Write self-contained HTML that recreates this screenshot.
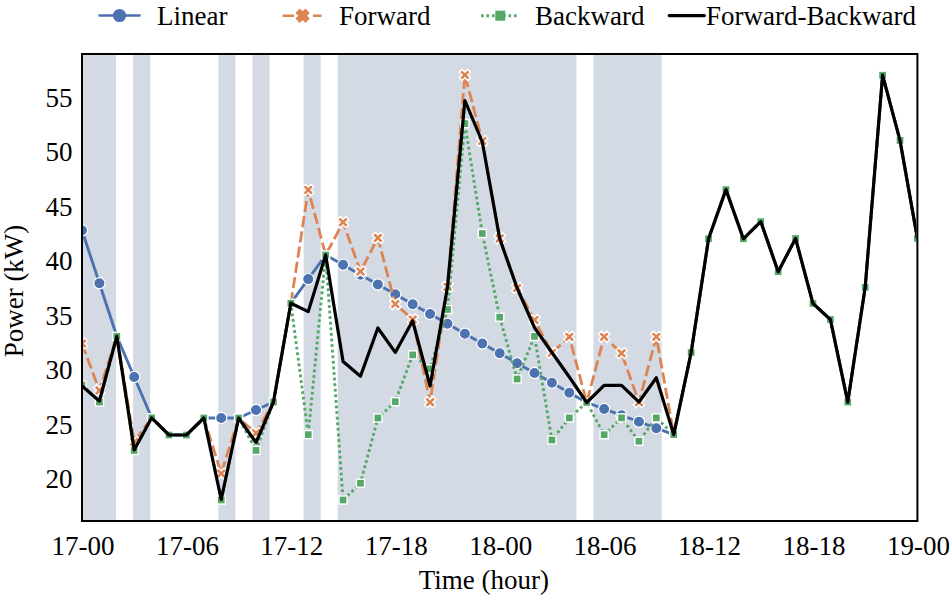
<!DOCTYPE html>
<html><head><meta charset="utf-8"><style>
html,body{margin:0;padding:0;background:#fff;}
svg{display:block;}
</style></head><body>
<svg width="950" height="597" viewBox="0 0 950 597">
<rect width="950" height="597" fill="#fff"/>
<defs><clipPath id="c"><rect x="83" y="54.5" width="833.4" height="465.5"/></clipPath></defs>
<rect x="82.00" y="54" width="34.10" height="466" fill="#D3DAE4"/><rect x="133.15" y="54" width="17.05" height="466" fill="#D3DAE4"/><rect x="218.39" y="54" width="17.05" height="466" fill="#D3DAE4"/><rect x="252.49" y="54" width="17.05" height="466" fill="#D3DAE4"/><rect x="303.64" y="54" width="17.05" height="466" fill="#D3DAE4"/><rect x="337.73" y="54" width="238.69" height="466" fill="#D3DAE4"/><rect x="593.47" y="54" width="68.20" height="466" fill="#D3DAE4"/>
<g clip-path="url(#c)">
<polyline points="82.00,230.30 99.40,283.30 116.81,336.30 134.21,377.05 151.62,417.80 169.02,435.00 186.42,435.00 203.83,418.00 221.23,418.00 238.64,418.00 256.04,410.00 273.45,402.00 290.85,303.20 308.25,279.10 325.66,255.00 343.06,264.83 360.47,274.67 377.87,284.50 395.27,294.33 412.68,304.17 430.08,314.00 447.49,323.83 464.89,333.67 482.30,343.50 499.70,353.33 517.10,363.17 534.51,373.00 551.91,382.83 569.32,392.67 586.72,402.50 604.12,408.92 621.53,415.34 638.93,421.76 656.34,428.18 673.74,434.60 691.15,352.50 708.55,238.80 725.95,189.60 743.36,238.80 760.76,221.60 778.17,271.70 795.57,238.50 812.97,303.50 830.38,319.50 847.78,402.10 865.19,287.30 882.59,75.20 900.00,140.40 917.40,238.50" fill="none" stroke="#4C72B0" stroke-width="2.9" stroke-linejoin="round" stroke-linecap="round"/><circle cx="82.00" cy="230.30" r="5.6" fill="#4C72B0" stroke="#fff" stroke-width="1.2"/><circle cx="99.40" cy="283.30" r="5.6" fill="#4C72B0" stroke="#fff" stroke-width="1.2"/><circle cx="134.21" cy="377.05" r="5.6" fill="#4C72B0" stroke="#fff" stroke-width="1.2"/><circle cx="221.23" cy="418.00" r="5.6" fill="#4C72B0" stroke="#fff" stroke-width="1.2"/><circle cx="256.04" cy="410.00" r="5.6" fill="#4C72B0" stroke="#fff" stroke-width="1.2"/><circle cx="308.25" cy="279.10" r="5.6" fill="#4C72B0" stroke="#fff" stroke-width="1.2"/><circle cx="343.06" cy="264.83" r="5.6" fill="#4C72B0" stroke="#fff" stroke-width="1.2"/><circle cx="360.47" cy="274.67" r="5.6" fill="#4C72B0" stroke="#fff" stroke-width="1.2"/><circle cx="377.87" cy="284.50" r="5.6" fill="#4C72B0" stroke="#fff" stroke-width="1.2"/><circle cx="395.27" cy="294.33" r="5.6" fill="#4C72B0" stroke="#fff" stroke-width="1.2"/><circle cx="412.68" cy="304.17" r="5.6" fill="#4C72B0" stroke="#fff" stroke-width="1.2"/><circle cx="430.08" cy="314.00" r="5.6" fill="#4C72B0" stroke="#fff" stroke-width="1.2"/><circle cx="447.49" cy="323.83" r="5.6" fill="#4C72B0" stroke="#fff" stroke-width="1.2"/><circle cx="464.89" cy="333.67" r="5.6" fill="#4C72B0" stroke="#fff" stroke-width="1.2"/><circle cx="482.30" cy="343.50" r="5.6" fill="#4C72B0" stroke="#fff" stroke-width="1.2"/><circle cx="499.70" cy="353.33" r="5.6" fill="#4C72B0" stroke="#fff" stroke-width="1.2"/><circle cx="517.10" cy="363.17" r="5.6" fill="#4C72B0" stroke="#fff" stroke-width="1.2"/><circle cx="534.51" cy="373.00" r="5.6" fill="#4C72B0" stroke="#fff" stroke-width="1.2"/><circle cx="551.91" cy="382.83" r="5.6" fill="#4C72B0" stroke="#fff" stroke-width="1.2"/><circle cx="569.32" cy="392.67" r="5.6" fill="#4C72B0" stroke="#fff" stroke-width="1.2"/><circle cx="604.12" cy="408.92" r="5.6" fill="#4C72B0" stroke="#fff" stroke-width="1.2"/><circle cx="621.53" cy="415.34" r="5.6" fill="#4C72B0" stroke="#fff" stroke-width="1.2"/><circle cx="638.93" cy="421.76" r="5.6" fill="#4C72B0" stroke="#fff" stroke-width="1.2"/><circle cx="656.34" cy="428.18" r="5.6" fill="#4C72B0" stroke="#fff" stroke-width="1.2"/><polyline points="82.00,343.50 99.40,390.40 116.81,336.30 134.21,442.00 151.62,417.80 169.02,435.00 186.42,435.00 203.83,418.00 221.23,473.50 238.64,418.00 256.04,433.10 273.45,402.00 290.85,303.20 308.25,189.90 325.66,255.00 343.06,222.20 360.47,271.50 377.87,237.90 395.27,304.00 412.68,319.50 430.08,402.20 447.49,286.70 464.89,75.00 482.30,141.00 499.70,238.40 517.10,288.00 534.51,320.00 551.91,352.80 569.32,336.80 586.72,402.50 604.12,336.80 621.53,353.20 638.93,402.20 656.34,336.80 673.74,434.60 691.15,352.50 708.55,238.80 725.95,189.60 743.36,238.80 760.76,221.60 778.17,271.70 795.57,238.50 812.97,303.50 830.38,319.50 847.78,402.10 865.19,287.30 882.59,75.20 900.00,140.40 917.40,238.50" fill="none" stroke="#DD8452" stroke-width="2.8" stroke-dasharray="11.2 4.2" stroke-linejoin="round"/><polygon points="79.20,337.90 82.00,340.70 84.80,337.90 87.60,340.70 84.80,343.50 87.60,346.30 84.80,349.10 82.00,346.30 79.20,349.10 76.40,346.30 79.20,343.50 76.40,340.70" fill="#DD8452" stroke="#fff" stroke-width="1.4" stroke-linejoin="miter"/><polygon points="96.60,384.80 99.40,387.60 102.20,384.80 105.00,387.60 102.20,390.40 105.00,393.20 102.20,396.00 99.40,393.20 96.60,396.00 93.80,393.20 96.60,390.40 93.80,387.60" fill="#DD8452" stroke="#fff" stroke-width="1.4" stroke-linejoin="miter"/><polygon points="131.41,436.40 134.21,439.20 137.01,436.40 139.81,439.20 137.01,442.00 139.81,444.80 137.01,447.60 134.21,444.80 131.41,447.60 128.61,444.80 131.41,442.00 128.61,439.20" fill="#DD8452" stroke="#fff" stroke-width="1.4" stroke-linejoin="miter"/><polygon points="218.43,467.90 221.23,470.70 224.03,467.90 226.83,470.70 224.03,473.50 226.83,476.30 224.03,479.10 221.23,476.30 218.43,479.10 215.63,476.30 218.43,473.50 215.63,470.70" fill="#DD8452" stroke="#fff" stroke-width="1.4" stroke-linejoin="miter"/><polygon points="253.24,427.50 256.04,430.30 258.84,427.50 261.64,430.30 258.84,433.10 261.64,435.90 258.84,438.70 256.04,435.90 253.24,438.70 250.44,435.90 253.24,433.10 250.44,430.30" fill="#DD8452" stroke="#fff" stroke-width="1.4" stroke-linejoin="miter"/><polygon points="305.45,184.30 308.25,187.10 311.05,184.30 313.85,187.10 311.05,189.90 313.85,192.70 311.05,195.50 308.25,192.70 305.45,195.50 302.65,192.70 305.45,189.90 302.65,187.10" fill="#DD8452" stroke="#fff" stroke-width="1.4" stroke-linejoin="miter"/><polygon points="340.26,216.60 343.06,219.40 345.86,216.60 348.66,219.40 345.86,222.20 348.66,225.00 345.86,227.80 343.06,225.00 340.26,227.80 337.46,225.00 340.26,222.20 337.46,219.40" fill="#DD8452" stroke="#fff" stroke-width="1.4" stroke-linejoin="miter"/><polygon points="357.67,265.90 360.47,268.70 363.27,265.90 366.07,268.70 363.27,271.50 366.07,274.30 363.27,277.10 360.47,274.30 357.67,277.10 354.87,274.30 357.67,271.50 354.87,268.70" fill="#DD8452" stroke="#fff" stroke-width="1.4" stroke-linejoin="miter"/><polygon points="375.07,232.30 377.87,235.10 380.67,232.30 383.47,235.10 380.67,237.90 383.47,240.70 380.67,243.50 377.87,240.70 375.07,243.50 372.27,240.70 375.07,237.90 372.27,235.10" fill="#DD8452" stroke="#fff" stroke-width="1.4" stroke-linejoin="miter"/><polygon points="392.47,298.40 395.27,301.20 398.07,298.40 400.88,301.20 398.07,304.00 400.88,306.80 398.07,309.60 395.27,306.80 392.47,309.60 389.67,306.80 392.47,304.00 389.67,301.20" fill="#DD8452" stroke="#fff" stroke-width="1.4" stroke-linejoin="miter"/><polygon points="409.88,313.90 412.68,316.70 415.48,313.90 418.28,316.70 415.48,319.50 418.28,322.30 415.48,325.10 412.68,322.30 409.88,325.10 407.08,322.30 409.88,319.50 407.08,316.70" fill="#DD8452" stroke="#fff" stroke-width="1.4" stroke-linejoin="miter"/><polygon points="427.28,396.60 430.08,399.40 432.88,396.60 435.68,399.40 432.88,402.20 435.68,405.00 432.88,407.80 430.08,405.00 427.28,407.80 424.48,405.00 427.28,402.20 424.48,399.40" fill="#DD8452" stroke="#fff" stroke-width="1.4" stroke-linejoin="miter"/><polygon points="444.69,281.10 447.49,283.90 450.29,281.10 453.09,283.90 450.29,286.70 453.09,289.50 450.29,292.30 447.49,289.50 444.69,292.30 441.89,289.50 444.69,286.70 441.89,283.90" fill="#DD8452" stroke="#fff" stroke-width="1.4" stroke-linejoin="miter"/><polygon points="462.09,69.40 464.89,72.20 467.69,69.40 470.49,72.20 467.69,75.00 470.49,77.80 467.69,80.60 464.89,77.80 462.09,80.60 459.29,77.80 462.09,75.00 459.29,72.20" fill="#DD8452" stroke="#fff" stroke-width="1.4" stroke-linejoin="miter"/><polygon points="479.50,135.40 482.30,138.20 485.10,135.40 487.90,138.20 485.10,141.00 487.90,143.80 485.10,146.60 482.30,143.80 479.50,146.60 476.70,143.80 479.50,141.00 476.70,138.20" fill="#DD8452" stroke="#fff" stroke-width="1.4" stroke-linejoin="miter"/><polygon points="496.90,232.80 499.70,235.60 502.50,232.80 505.30,235.60 502.50,238.40 505.30,241.20 502.50,244.00 499.70,241.20 496.90,244.00 494.10,241.20 496.90,238.40 494.10,235.60" fill="#DD8452" stroke="#fff" stroke-width="1.4" stroke-linejoin="miter"/><polygon points="514.30,282.40 517.10,285.20 519.90,282.40 522.70,285.20 519.90,288.00 522.70,290.80 519.90,293.60 517.10,290.80 514.30,293.60 511.50,290.80 514.30,288.00 511.50,285.20" fill="#DD8452" stroke="#fff" stroke-width="1.4" stroke-linejoin="miter"/><polygon points="531.71,314.40 534.51,317.20 537.31,314.40 540.11,317.20 537.31,320.00 540.11,322.80 537.31,325.60 534.51,322.80 531.71,325.60 528.91,322.80 531.71,320.00 528.91,317.20" fill="#DD8452" stroke="#fff" stroke-width="1.4" stroke-linejoin="miter"/><polygon points="549.11,347.20 551.91,350.00 554.71,347.20 557.51,350.00 554.71,352.80 557.51,355.60 554.71,358.40 551.91,355.60 549.11,358.40 546.31,355.60 549.11,352.80 546.31,350.00" fill="#DD8452" stroke="#fff" stroke-width="1.4" stroke-linejoin="miter"/><polygon points="566.52,331.20 569.32,334.00 572.12,331.20 574.92,334.00 572.12,336.80 574.92,339.60 572.12,342.40 569.32,339.60 566.52,342.40 563.72,339.60 566.52,336.80 563.72,334.00" fill="#DD8452" stroke="#fff" stroke-width="1.4" stroke-linejoin="miter"/><polygon points="601.33,331.20 604.12,334.00 606.92,331.20 609.73,334.00 606.92,336.80 609.73,339.60 606.92,342.40 604.12,339.60 601.33,342.40 598.52,339.60 601.33,336.80 598.52,334.00" fill="#DD8452" stroke="#fff" stroke-width="1.4" stroke-linejoin="miter"/><polygon points="618.73,347.60 621.53,350.40 624.33,347.60 627.13,350.40 624.33,353.20 627.13,356.00 624.33,358.80 621.53,356.00 618.73,358.80 615.93,356.00 618.73,353.20 615.93,350.40" fill="#DD8452" stroke="#fff" stroke-width="1.4" stroke-linejoin="miter"/><polygon points="636.13,396.60 638.93,399.40 641.73,396.60 644.53,399.40 641.73,402.20 644.53,405.00 641.73,407.80 638.93,405.00 636.13,407.80 633.33,405.00 636.13,402.20 633.33,399.40" fill="#DD8452" stroke="#fff" stroke-width="1.4" stroke-linejoin="miter"/><polygon points="653.54,331.20 656.34,334.00 659.14,331.20 661.94,334.00 659.14,336.80 661.94,339.60 659.14,342.40 656.34,339.60 653.54,342.40 650.74,339.60 653.54,336.80 650.74,334.00" fill="#DD8452" stroke="#fff" stroke-width="1.4" stroke-linejoin="miter"/><polyline points="82.00,385.00 99.40,402.00 116.81,336.30 134.21,450.50 151.62,417.80 169.02,435.00 186.42,435.00 203.83,418.00 221.23,500.00 238.64,418.00 256.04,450.40 273.45,402.00 290.85,303.20 308.25,434.60 325.66,255.00 343.06,500.00 360.47,483.20 377.87,418.00 395.27,401.70 412.68,354.90 430.08,368.80 447.49,309.50 464.89,123.60 482.30,233.50 499.70,317.20 517.10,379.00 534.51,336.40 551.91,440.00 569.32,417.90 586.72,402.50 604.12,434.70 621.53,417.90 638.93,441.20 656.34,417.90 673.74,434.60 691.15,352.50 708.55,238.80 725.95,189.60 743.36,238.80 760.76,221.60 778.17,271.70 795.57,238.50 812.97,303.50 830.38,319.50 847.78,402.10 865.19,287.30 882.59,75.20 900.00,140.40 917.40,238.50" fill="none" stroke="#55A868" stroke-width="2.9" stroke-dasharray="2.8 2.8" stroke-linejoin="round"/><rect x="77.95" y="380.95" width="8.1" height="8.1" fill="#55A868" stroke="#fff" stroke-width="1.4"/><rect x="95.35" y="397.95" width="8.1" height="8.1" fill="#55A868" stroke="#fff" stroke-width="1.4"/><rect x="112.76" y="332.25" width="8.1" height="8.1" fill="#55A868" stroke="#fff" stroke-width="1.4"/><rect x="130.16" y="446.45" width="8.1" height="8.1" fill="#55A868" stroke="#fff" stroke-width="1.4"/><rect x="147.57" y="413.75" width="8.1" height="8.1" fill="#55A868" stroke="#fff" stroke-width="1.4"/><rect x="164.97" y="430.95" width="8.1" height="8.1" fill="#55A868" stroke="#fff" stroke-width="1.4"/><rect x="182.37" y="430.95" width="8.1" height="8.1" fill="#55A868" stroke="#fff" stroke-width="1.4"/><rect x="199.78" y="413.95" width="8.1" height="8.1" fill="#55A868" stroke="#fff" stroke-width="1.4"/><rect x="217.18" y="495.95" width="8.1" height="8.1" fill="#55A868" stroke="#fff" stroke-width="1.4"/><rect x="234.59" y="413.95" width="8.1" height="8.1" fill="#55A868" stroke="#fff" stroke-width="1.4"/><rect x="251.99" y="446.35" width="8.1" height="8.1" fill="#55A868" stroke="#fff" stroke-width="1.4"/><rect x="269.40" y="397.95" width="8.1" height="8.1" fill="#55A868" stroke="#fff" stroke-width="1.4"/><rect x="286.80" y="299.15" width="8.1" height="8.1" fill="#55A868" stroke="#fff" stroke-width="1.4"/><rect x="304.20" y="430.55" width="8.1" height="8.1" fill="#55A868" stroke="#fff" stroke-width="1.4"/><rect x="321.61" y="250.95" width="8.1" height="8.1" fill="#55A868" stroke="#fff" stroke-width="1.4"/><rect x="339.01" y="495.95" width="8.1" height="8.1" fill="#55A868" stroke="#fff" stroke-width="1.4"/><rect x="356.42" y="479.15" width="8.1" height="8.1" fill="#55A868" stroke="#fff" stroke-width="1.4"/><rect x="373.82" y="413.95" width="8.1" height="8.1" fill="#55A868" stroke="#fff" stroke-width="1.4"/><rect x="391.22" y="397.65" width="8.1" height="8.1" fill="#55A868" stroke="#fff" stroke-width="1.4"/><rect x="408.63" y="350.85" width="8.1" height="8.1" fill="#55A868" stroke="#fff" stroke-width="1.4"/><rect x="426.03" y="364.75" width="8.1" height="8.1" fill="#55A868" stroke="#fff" stroke-width="1.4"/><rect x="443.44" y="305.45" width="8.1" height="8.1" fill="#55A868" stroke="#fff" stroke-width="1.4"/><rect x="460.84" y="119.55" width="8.1" height="8.1" fill="#55A868" stroke="#fff" stroke-width="1.4"/><rect x="478.25" y="229.45" width="8.1" height="8.1" fill="#55A868" stroke="#fff" stroke-width="1.4"/><rect x="495.65" y="313.15" width="8.1" height="8.1" fill="#55A868" stroke="#fff" stroke-width="1.4"/><rect x="513.05" y="374.95" width="8.1" height="8.1" fill="#55A868" stroke="#fff" stroke-width="1.4"/><rect x="530.46" y="332.35" width="8.1" height="8.1" fill="#55A868" stroke="#fff" stroke-width="1.4"/><rect x="547.86" y="435.95" width="8.1" height="8.1" fill="#55A868" stroke="#fff" stroke-width="1.4"/><rect x="565.27" y="413.85" width="8.1" height="8.1" fill="#55A868" stroke="#fff" stroke-width="1.4"/><rect x="582.67" y="398.45" width="8.1" height="8.1" fill="#55A868" stroke="#fff" stroke-width="1.4"/><rect x="600.08" y="430.65" width="8.1" height="8.1" fill="#55A868" stroke="#fff" stroke-width="1.4"/><rect x="617.48" y="413.85" width="8.1" height="8.1" fill="#55A868" stroke="#fff" stroke-width="1.4"/><rect x="634.88" y="437.15" width="8.1" height="8.1" fill="#55A868" stroke="#fff" stroke-width="1.4"/><rect x="652.29" y="413.85" width="8.1" height="8.1" fill="#55A868" stroke="#fff" stroke-width="1.4"/><rect x="669.69" y="430.55" width="8.1" height="8.1" fill="#55A868" stroke="#fff" stroke-width="1.4"/><rect x="687.10" y="348.45" width="8.1" height="8.1" fill="#55A868" stroke="#fff" stroke-width="1.4"/><rect x="704.50" y="234.75" width="8.1" height="8.1" fill="#55A868" stroke="#fff" stroke-width="1.4"/><rect x="721.90" y="185.55" width="8.1" height="8.1" fill="#55A868" stroke="#fff" stroke-width="1.4"/><rect x="739.31" y="234.75" width="8.1" height="8.1" fill="#55A868" stroke="#fff" stroke-width="1.4"/><rect x="756.71" y="217.55" width="8.1" height="8.1" fill="#55A868" stroke="#fff" stroke-width="1.4"/><rect x="774.12" y="267.65" width="8.1" height="8.1" fill="#55A868" stroke="#fff" stroke-width="1.4"/><rect x="791.52" y="234.45" width="8.1" height="8.1" fill="#55A868" stroke="#fff" stroke-width="1.4"/><rect x="808.92" y="299.45" width="8.1" height="8.1" fill="#55A868" stroke="#fff" stroke-width="1.4"/><rect x="826.33" y="315.45" width="8.1" height="8.1" fill="#55A868" stroke="#fff" stroke-width="1.4"/><rect x="843.73" y="398.05" width="8.1" height="8.1" fill="#55A868" stroke="#fff" stroke-width="1.4"/><rect x="861.14" y="283.25" width="8.1" height="8.1" fill="#55A868" stroke="#fff" stroke-width="1.4"/><rect x="878.54" y="71.15" width="8.1" height="8.1" fill="#55A868" stroke="#fff" stroke-width="1.4"/><rect x="895.95" y="136.35" width="8.1" height="8.1" fill="#55A868" stroke="#fff" stroke-width="1.4"/><rect x="913.35" y="234.45" width="8.1" height="8.1" fill="#55A868" stroke="#fff" stroke-width="1.4"/><polyline points="82.00,386.00 99.40,401.00 116.81,336.30 134.21,450.00 151.62,417.80 169.02,435.00 186.42,435.00 203.83,418.00 221.23,499.50 238.64,418.00 256.04,442.50 273.45,402.00 290.85,303.20 308.25,311.60 325.66,255.00 343.06,361.50 360.47,376.30 377.87,328.00 395.27,352.40 412.68,320.80 430.08,386.00 447.49,287.00 464.89,100.50 482.30,142.00 499.70,238.60 517.10,288.00 534.51,327.60 551.91,352.50 569.32,377.00 586.72,402.50 604.12,385.40 621.53,385.40 638.93,402.00 656.34,377.70 673.74,434.60 691.15,352.50 708.55,238.80 725.95,189.60 743.36,238.80 760.76,221.60 778.17,271.70 795.57,238.50 812.97,303.50 830.38,319.50 847.78,402.10 865.19,287.30 882.59,75.20 900.00,140.40 917.40,238.50" fill="none" stroke="#000" stroke-width="3.2" stroke-linejoin="round" stroke-linecap="round"/>
</g>
<rect x="82" y="54" width="835.4" height="467" fill="none" stroke="#000" stroke-width="2"/>
<text x="83.00" y="555" text-anchor="middle" font-family="Liberation Serif, serif" font-size="27" fill="#000">17-00</text><text x="187.42" y="555" text-anchor="middle" font-family="Liberation Serif, serif" font-size="27" fill="#000">17-06</text><text x="291.85" y="555" text-anchor="middle" font-family="Liberation Serif, serif" font-size="27" fill="#000">17-12</text><text x="396.27" y="555" text-anchor="middle" font-family="Liberation Serif, serif" font-size="27" fill="#000">17-18</text><text x="500.70" y="555" text-anchor="middle" font-family="Liberation Serif, serif" font-size="27" fill="#000">18-00</text><text x="605.12" y="555" text-anchor="middle" font-family="Liberation Serif, serif" font-size="27" fill="#000">18-06</text><text x="709.55" y="555" text-anchor="middle" font-family="Liberation Serif, serif" font-size="27" fill="#000">18-12</text><text x="813.97" y="555" text-anchor="middle" font-family="Liberation Serif, serif" font-size="27" fill="#000">18-18</text><text x="918.40" y="555" text-anchor="middle" font-family="Liberation Serif, serif" font-size="27" fill="#000">19-00</text><text x="72.5" y="488.10" text-anchor="end" font-family="Liberation Serif, serif" font-size="27" fill="#000">20</text><text x="72.5" y="433.60" text-anchor="end" font-family="Liberation Serif, serif" font-size="27" fill="#000">25</text><text x="72.5" y="379.10" text-anchor="end" font-family="Liberation Serif, serif" font-size="27" fill="#000">30</text><text x="72.5" y="324.60" text-anchor="end" font-family="Liberation Serif, serif" font-size="27" fill="#000">35</text><text x="72.5" y="270.10" text-anchor="end" font-family="Liberation Serif, serif" font-size="27" fill="#000">40</text><text x="72.5" y="215.60" text-anchor="end" font-family="Liberation Serif, serif" font-size="27" fill="#000">45</text><text x="72.5" y="161.10" text-anchor="end" font-family="Liberation Serif, serif" font-size="27" fill="#000">50</text><text x="72.5" y="106.60" text-anchor="end" font-family="Liberation Serif, serif" font-size="27" fill="#000">55</text>
<text transform="translate(23,291) rotate(-90)" text-anchor="middle" font-family="Liberation Serif, serif" font-size="27" fill="#000">Power (kW)</text>
<text x="483.8" y="589" text-anchor="middle" font-family="Liberation Serif, serif" font-size="27" fill="#000">Time (hour)</text>

<line x1="99.5" y1="15.6" x2="139.5" y2="15.6" stroke="#4C72B0" stroke-width="2.5" stroke-linecap="round"/>
<circle cx="119.5" cy="15.5" r="6.6" fill="#4C72B0"/>
<text x="157" y="25" font-family="Liberation Serif, serif" font-size="27" fill="#000">Linear</text>
<line x1="282.6" y1="15.7" x2="322" y2="15.7" stroke="#DD8452" stroke-width="2.5" stroke-dasharray="11.4 19 8.5"/>
<polygon points="299.78,10.05 302.60,12.88 305.43,10.05 308.25,12.88 305.43,15.70 308.25,18.52 305.43,21.35 302.60,18.52 299.78,21.35 296.95,18.52 299.78,15.70 296.95,12.88" fill="#DD8452" stroke="#DD8452" stroke-width="2.2" stroke-linejoin="miter"/>
<text x="339" y="25" font-family="Liberation Serif, serif" font-size="27" fill="#000">Forward</text>
<line x1="481" y1="15.7" x2="517" y2="15.7" stroke="#55A868" stroke-width="3" stroke-dasharray="2.6 2.9"/>
<rect x="495.3" y="10.7" width="10" height="10" fill="#55A868"/>
<text x="535" y="25" font-family="Liberation Serif, serif" font-size="27" fill="#000">Backward</text>
<line x1="669.2" y1="15.6" x2="704.4" y2="15.6" stroke="#000" stroke-width="3.1" stroke-linecap="round"/>
<text x="706" y="25" font-family="Liberation Serif, serif" font-size="27" fill="#000">Forward-Backward</text>

</svg>
</body></html>
